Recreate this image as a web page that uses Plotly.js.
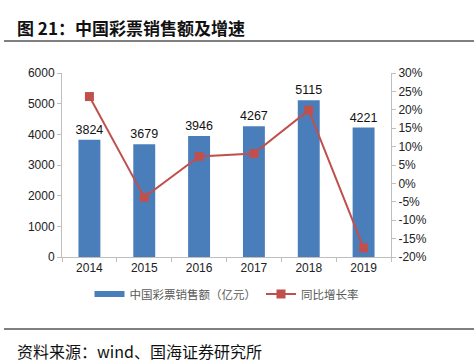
<!DOCTYPE html>
<html>
<head>
<meta charset="utf-8">
<script src="https://cdn.plot.ly/plotly-3.0.1.min.js"></script>
<style>html,body{margin:0;padding:0;background:#fff;}#chart{width:474px;height:363px;}</style>
</head>
<body>
<div id="chart"></div>
<script>
const years = ['2014','2015','2016','2017','2018','2019'];
const sales = [3824, 3679, 3946, 4267, 5115, 4221];
const growth = [23.6, -3.8, 7.3, 8.1, 19.9, -17.5];
const salesName = '中国彩票销售额（亿元）';
const growthName = '同比增长率';
const leftTicks = [0, 1000, 2000, 3000, 4000, 5000, 6000];
const rightTicks = [-20, -15, -10, -5, 0, 5, 10, 15, 20, 25, 30];

const FONT = 'Liberation Sans, Arial, Noto Sans CJK SC, sans-serif';
const CJK = 'Noto Sans CJK SC, sans-serif';
const BLUE = '#4A7EBB';
const RED = '#C0504D';

const traces = [
  {
    type: 'bar', x: years, y: sales, name: salesName, showlegend: false,
    marker: {color: BLUE}, width: 0.4,
    text: sales.map(String), textposition: 'outside', constraintext: 'none',
    textfont: {family: FONT, size: 12.5, color: '#111'},
    cliponaxis: false
  },
  {
    // legend-only entry drawn as a wide swatch like the original
    type: 'scatter', mode: 'lines', x: [null], y: [null], name: salesName,
    line: {color: BLUE, width: 6}
  },
  {
    type: 'scatter', mode: 'lines+markers', x: years, y: growth, name: growthName,
    yaxis: 'y2',
    line: {color: RED, width: 2},
    marker: {symbol: 'square', size: 9, color: RED}
  }
];

const axisCommon = {
  showgrid: false, zeroline: false, showline: true, linecolor: '#BFBFBF', linewidth: 1,
  ticks: 'outside', ticklen: 4, tickcolor: '#BFBFBF',
  tickfont: {family: FONT, size: 12, color: '#222'}
};

const layout = {
  width: 474, height: 363,
  margin: {l: 62, r: 83, t: 73, b: 106},
  paper_bgcolor: '#fff', plot_bgcolor: '#fff',
  showlegend: true,
  bargap: 0.6,
  legend: {
    orientation: 'h', x: 0.5, xanchor: 'center', y: -0.17, yanchor: 'middle',
    font: {family: CJK, size: 11.5, color: '#595959'},
    itemwidth: 30, traceorder: 'normal'
  },
  xaxis: Object.assign({}, axisCommon, {type: 'category', tickson: 'boundaries', categoryorder: 'array', categoryarray: years}),
  yaxis: Object.assign({}, axisCommon, {range: [0, 6000], tickvals: leftTicks, ticktext: leftTicks.map(String)}),
  yaxis2: Object.assign({}, axisCommon, {overlaying: 'y', side: 'right', range: [-20, 30],
    tickvals: rightTicks, ticktext: rightTicks.map(v => v + '%')}),
  annotations: [
    {xref: 'paper', yref: 'paper', x: 0, y: 1, xanchor: 'left', yanchor: 'middle',
     text: '<b>图 21：中国彩票销售额及增速</b>', showarrow: false,
     font: {family: CJK, size: 17, color: '#111'}},
    {xref: 'paper', yref: 'paper', x: 0, y: 0, xanchor: 'left', yanchor: 'middle',
     text: '资料来源：wind、国海证券研究所', showarrow: false,
     font: {family: CJK, size: 16, color: '#111'}}
  ],
  shapes: [
    {type: 'line', xref: 'paper', yref: 'paper', x0: 0, x1: 1, y0: 0, y1: 0, line: {color: '#555', width: 1.5}},
    {type: 'line', xref: 'paper', yref: 'paper', x0: 0, x1: 1, y0: 0, y1: 0, line: {color: '#555', width: 1.5}}
  ]
};

const plotH = 363 - 73 - 106, plotW = 474 - 62 - 83;
function py(pix) { return (363 - 106 - pix) / plotH; }
function px(pix) { return (pix - 62) / plotW; }
layout.annotations[0].x = px(15); layout.annotations[0].y = py(27);
layout.annotations[1].x = px(15); layout.annotations[1].y = py(351);
layout.shapes[0].x0 = px(4); layout.shapes[0].x1 = px(474); layout.shapes[0].y0 = layout.shapes[0].y1 = py(41);
layout.shapes[1].x0 = px(4); layout.shapes[1].x1 = px(474); layout.shapes[1].y0 = layout.shapes[1].y1 = py(329);
layout.legend.y = py(294);

Plotly.newPlot('chart', traces, layout, {displayModeBar: false, staticPlot: true});
</script>
</body>
</html>
